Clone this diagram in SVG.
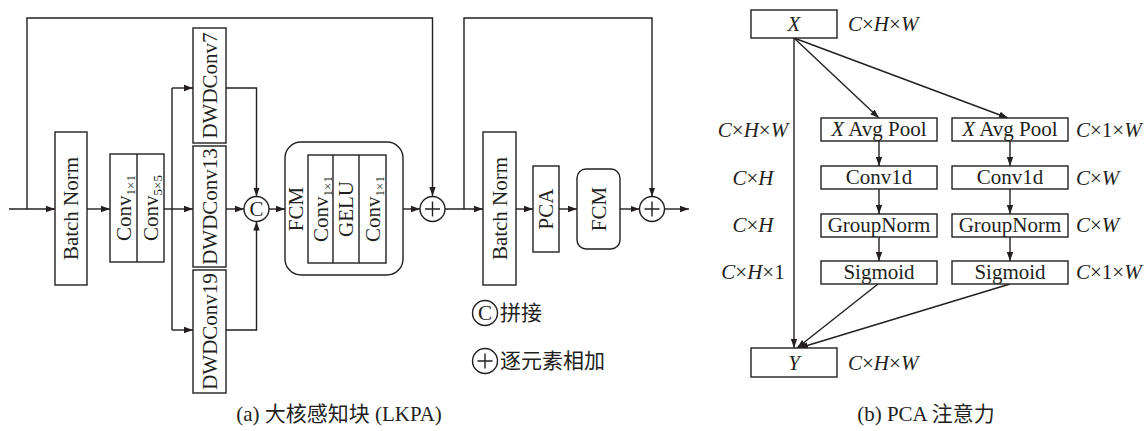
<svg xmlns="http://www.w3.org/2000/svg" width="1148" height="431" viewBox="0 0 1148 431">
<defs>
<marker id="ah" markerUnits="userSpaceOnUse" markerWidth="10" markerHeight="8" refX="9" refY="4" orient="auto">
<path d="M0,0.8 L9,4 L0,7.2 z" fill="#231f20"/>
</marker>
<style>
.b{fill:#fff;stroke:#231f20;stroke-width:1.4}
.l{fill:none;stroke:#231f20;stroke-width:1.4}
.a{fill:none;stroke:#231f20;stroke-width:1.4;marker-end:url(#ah)}
.t{font-family:"Liberation Serif","Noto Sans CJK SC",serif;font-size:21px;fill:#231f20}
.m{text-anchor:middle}
.i{font-style:italic}
.s{font-size:13px}
.cj{font-family:"Liberation Serif","Noto Sans CJK SC",serif;font-size:21px;fill:#231f20}
</style>
</defs>
<rect width="1148" height="431" fill="#fff"/>

<g id="connectors">
<path class="a" d="M9,209 H55"/>
<path class="a" d="M27,209 V18 H432.5 V196"/>
<path class="a" d="M87,209 H110"/>
<path class="a" d="M164,209 H193"/>
<path class="l" d="M172,88 V330"/>
<path class="a" d="M172,88 H193"/>
<path class="a" d="M172,330 H193"/>
<path class="a" d="M226,209 H244"/>
<path class="a" d="M226,88 H256.5 V196.5"/>
<path class="a" d="M226,330 H256.5 V221.5"/>
<path class="a" d="M269,209 H285"/>
<path class="a" d="M403,209 H420"/>
<path class="a" d="M445,209 H483"/>
<path class="a" d="M464,209 V18 H652 V196.5"/>
<path class="a" d="M516,209 H533"/>
<path class="a" d="M559,209 H577"/>
<path class="a" d="M620,209 H639.5"/>
<path class="a" d="M664.5,209 H689"/>
<path class="a" d="M794,38 V348"/>
<path class="a" d="M794,38 L879,118"/>
<path class="a" d="M794,38 L1008,118"/>
<path class="a" d="M879,141 V166"/>
<path class="a" d="M879,189 V214"/>
<path class="a" d="M879,237 V261"/>
<path class="a" d="M1010,141 V166"/>
<path class="a" d="M1010,189 V214"/>
<path class="a" d="M1010,237 V261"/>
<path class="a" d="M878,284 L797,348"/>
<path class="a" d="M1010,284 L799,348"/>
</g>

<g id="bn1"><rect class="b" x="55" y="132" width="32" height="153"/>
<text class="t m" transform="translate(78,208.5) rotate(-90)">Batch Norm</text></g>

<g id="conv"><rect class="b" x="110" y="154" width="54" height="108"/><path class="l" d="M137,154 V262"/>
<text class="t m" transform="translate(130.5,208) rotate(-90)">Conv<tspan class="s" dy="4">1×1</tspan></text>
<text class="t m" transform="translate(157.5,208) rotate(-90)">Conv<tspan class="s" dy="4">5×5</tspan></text></g>

<g id="dw7"><rect class="b" x="193" y="28" width="33" height="115"/>
<text class="t m" transform="translate(216.5,85.5) rotate(-90)">DWDConv7</text></g>
<g id="dw13"><rect class="b" x="193" y="146" width="33" height="121"/>
<text class="t m" transform="translate(216.5,206.5) rotate(-90)">DWDConv13</text></g>
<g id="dw19"><rect class="b" x="193" y="270" width="33" height="123"/>
<text class="t m" transform="translate(216.5,331.5) rotate(-90)">DWDConv19</text></g>

<g id="concat"><circle class="b" cx="256.5" cy="209" r="12.5"/>
<text class="t m" x="256.5" y="216">C</text></g>

<g id="fcm1"><rect class="b" x="285" y="142" width="118" height="133" rx="16"/>
<rect class="b" x="308" y="155" width="78" height="108"/>
<path class="l" d="M333,155 V263 M359,155 V263"/>
<text class="t m" transform="translate(303,209) rotate(-90)">FCM</text>
<text class="t m" transform="translate(327.5,209) rotate(-90)">Conv<tspan class="s" dy="4">1×1</tspan></text>
<text class="t m" transform="translate(353,209) rotate(-90)">GELU</text>
<text class="t m" transform="translate(379.5,209) rotate(-90)">Conv<tspan class="s" dy="4">1×1</tspan></text></g>

<g id="add1"><circle class="b" cx="432.5" cy="209" r="12.5"/>
<path class="l" d="M425,209 H440 M432.5,201.5 V216.5"/></g>

<g id="bn2"><rect class="b" x="483" y="132" width="33" height="153"/>
<text class="t m" transform="translate(506.5,208.5) rotate(-90)">Batch Norm</text></g>

<g id="pca"><rect class="b" x="533" y="166" width="26" height="86"/>
<text class="t m" transform="translate(553,209) rotate(-90)">PCA</text></g>

<g id="fcm2"><rect class="b" x="577" y="169" width="43" height="80" rx="9"/>
<text class="t m" transform="translate(605.5,209) rotate(-90)">FCM</text></g>

<g id="add2"><circle class="b" cx="652" cy="209" r="12.5"/>
<path class="l" d="M644.5,209 H659.5 M652,201.5 V216.5"/></g>

<g id="legend">
<circle class="b" cx="485" cy="313" r="12.5"/>
<text class="t m" x="485" y="320">C</text>
<text class="cj" x="500" y="320">拼接</text>
<circle class="b" cx="485" cy="361" r="12.5"/>
<path class="l" d="M477.5,361 H492.5 M485,353.5 V368.5"/>
<text class="cj" x="500" y="368">逐元素相加</text>
</g>

<text class="cj m" x="339" y="421">(a) 大核感知块 (LKPA)</text>

<g id="x"><rect class="b" x="751" y="10" width="86" height="28"/>
<text class="t m i" x="794" y="31">X</text></g>
<text class="t" x="848" y="31"><tspan class="i">C</tspan>×<tspan class="i">H</tspan>×<tspan class="i">W</tspan></text>

<g id="avgH"><rect class="b" x="821" y="118" width="116" height="23"/>
<text class="t m" x="879" y="136"><tspan class="i">X</tspan> Avg Pool</text></g>
<g id="avgW"><rect class="b" x="952" y="118" width="116" height="23"/>
<text class="t m" x="1010" y="136"><tspan class="i">X</tspan> Avg Pool</text></g>
<g id="convH"><rect class="b" x="821" y="166" width="116" height="23"/>
<text class="t m" x="879" y="184">Conv1d</text></g>
<g id="convW"><rect class="b" x="952" y="166" width="116" height="23"/>
<text class="t m" x="1010" y="184">Conv1d</text></g>
<g id="gnH"><rect class="b" x="821" y="214" width="116" height="23"/>
<text class="t m" x="879" y="232">GroupNorm</text></g>
<g id="gnW"><rect class="b" x="952" y="214" width="116" height="23"/>
<text class="t m" x="1010" y="232">GroupNorm</text></g>
<g id="sigH"><rect class="b" x="821" y="261" width="116" height="23"/>
<text class="t m" x="879" y="279">Sigmoid</text></g>
<g id="sigW"><rect class="b" x="952" y="261" width="116" height="23"/>
<text class="t m" x="1010" y="279">Sigmoid</text></g>

<g id="y"><rect class="b" x="751" y="348" width="86" height="29"/>
<text class="t m i" x="794" y="370">Y</text></g>
<text class="t" x="848" y="370"><tspan class="i">C</tspan>×<tspan class="i">H</tspan>×<tspan class="i">W</tspan></text>

<text class="t m" x="753" y="137"><tspan class="i">C</tspan>×<tspan class="i">H</tspan>×<tspan class="i">W</tspan></text>
<text class="t m" x="753" y="185"><tspan class="i">C</tspan>×<tspan class="i">H</tspan></text>
<text class="t m" x="753" y="232"><tspan class="i">C</tspan>×<tspan class="i">H</tspan></text>
<text class="t m" x="753" y="279"><tspan class="i">C</tspan>×<tspan class="i">H</tspan>×1</text>
<text class="t" x="1076" y="137"><tspan class="i">C</tspan>×1×<tspan class="i">W</tspan></text>
<text class="t" x="1076" y="185"><tspan class="i">C</tspan>×<tspan class="i">W</tspan></text>
<text class="t" x="1076" y="232"><tspan class="i">C</tspan>×<tspan class="i">W</tspan></text>
<text class="t" x="1076" y="279"><tspan class="i">C</tspan>×1×<tspan class="i">W</tspan></text>

<text class="cj m" x="926" y="421">(b) PCA 注意力</text>
</svg>
